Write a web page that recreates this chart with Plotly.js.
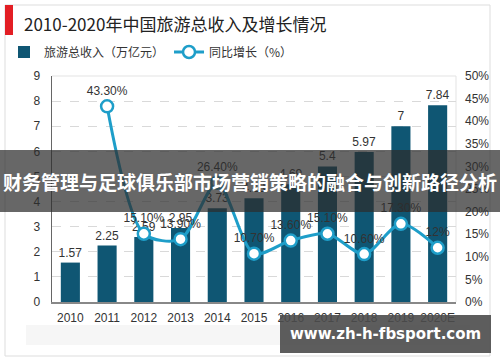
<!DOCTYPE html>
<html>
<head>
<meta charset="utf-8">
<script src="https://cdn.plot.ly/plotly-3.0.1.min.js"></script>
<style>
  html, body { margin: 0; padding: 0; background: #ffffff; }
  #chart { width: 500px; height: 362px; }
</style>
</head>
<body>
<div id="chart"></div>
<script>
// ---- data ----
const years = ['2010', '2011', '2012', '2013', '2014', '2015', '2016', '2017', '2018', '2019', '2020E'];
const revenue = [1.57, 2.25, 2.59, 2.95, 3.73, 4.13, 4.69, 5.4, 5.97, 7, 7.84];
const growth = [null, 43.3, 15.1, 13.9, 26.4, 10.7, 13.6, 15.1, 10.6, 17.3, 12];
const growthLabels = ['', '43.30%', '15.10%', '13.90%', '26.40%', '10.70%', '13.60%', '15.10%', '10.60%', '17.30%', '12%'];
const revenueName = '旅游总收入（万亿元）';
const growthName = '同比增长（%）';
const chartTitle = '2010-2020年中国旅游总收入及增长情况';
const bannerText = '财务管理与足球俱乐部市场营销策略的融合与创新路径分析';
const watermarkText = 'www.zh-h-fbsport.com';

// ---- geometry helpers (pixels -> paper) ----
const W = 500, H = 362;
const L = 52, R = 456, T = 76, B = 302;
const px = x => (x - L) / (R - L);
const py = y => (B - y) / (B - T);

const FONT = 'Liberation Sans, Arial, Noto Sans CJK SC, sans-serif';
const CJK = 'Noto Sans CJK SC, Liberation Sans, sans-serif';

const barTrace = {
  type: 'bar',
  name: revenueName,
  x: years,
  y: revenue,
  yaxis: 'y',
  marker: { color: '#0f5673' },
  text: revenue.map(String),
  textposition: 'outside',
  constraintext: 'none',
  cliponaxis: false,
  textfont: { family: FONT, size: 12, color: '#333333' },
  hoverinfo: 'x+y'
};

const lineTrace = {
  type: 'scatter',
  mode: 'lines+markers+text',
  name: growthName,
  x: years,
  y: growth,
  yaxis: 'y2',
  connectgaps: false,
  line: { color: '#1e9ec9', width: 3, shape: 'spline', smoothing: 0.8 },
  marker: { symbol: 'circle', size: 12, color: '#ffffff', line: { color: '#1e9ec9', width: 2.5 } },
  text: growthLabels,
  textposition: 'top center',
  cliponaxis: false,
  textfont: { family: FONT, size: 12, color: '#333333' }
};

const layout = {
  width: W,
  height: H,
  margin: { l: L, r: W - R, t: T, b: H - B, pad: 0, autoexpand: false },
  paper_bgcolor: '#ffffff',
  plot_bgcolor: '#ffffff',
  showlegend: true,
  bargap: 0.48,
  title: {
    text: chartTitle,
    x: 24 / W,
    xanchor: 'left',
    xref: 'container',
    y: 1 - 25 / H,
    yanchor: 'middle',
    yref: 'container',
    font: { family: CJK, size: 17, color: '#222222' }
  },
  legend: {
    orientation: 'h',
    x: px(4),
    xanchor: 'left',
    y: py(52),
    yanchor: 'middle',
    font: { family: CJK, size: 12, color: '#333333' },
    bgcolor: 'rgba(0,0,0,0)',
    itemwidth: 30,
    tracegroupgap: 0
  },
  xaxis: {
    type: 'category',
    range: [-0.5, years.length - 0.5],
    showgrid: false,
    showline: true,
    linecolor: '#888888',
    linewidth: 1.5,
    ticks: '',
    tickfont: { family: FONT, size: 12, color: '#333333' },
    ticklabelstandoff: 4,
    zeroline: false,
    automargin: false,
    fixedrange: true
  },
  yaxis: {
    range: [0, 9],
    dtick: 1,
    showgrid: true,
    gridcolor: '#d9d9d9',
    griddash: 'dash',
    gridwidth: 1,
    showline: true,
    linecolor: '#666666',
    linewidth: 1.5,
    ticks: '',
    ticklabelstandoff: 8,
    tickfont: { family: FONT, size: 12, color: '#333333' },
    zeroline: false,
    automargin: false,
    fixedrange: true
  },
  yaxis2: {
    overlaying: 'y',
    side: 'right',
    range: [0, 50],
    dtick: 5,
    ticksuffix: '%',
    showgrid: false,
    showline: false,
    ticks: '',
    ticklabelstandoff: 8,
    tickfont: { family: FONT, size: 12, color: '#333333' },
    zeroline: false,
    automargin: false,
    fixedrange: true
  },
  shapes: [
    // outer card border
    { type: 'rect', xref: 'paper', yref: 'paper', x0: px(5), x1: px(490), y0: py(356), y1: py(5),
      line: { color: '#dddddd', width: 1 }, fillcolor: 'rgba(0,0,0,0)', layer: 'below' },
    // red accent bar
    { type: 'rect', xref: 'paper', yref: 'paper', x0: px(5), x1: px(13), y0: py(35), y1: py(5),
      line: { width: 0 }, fillcolor: '#e31e24', layer: 'above' },
    // faint band below axis
    { type: 'rect', xref: 'paper', yref: 'paper', x0: px(26), x1: px(470), y0: py(345), y1: py(325),
      line: { width: 0 }, fillcolor: '#f6f6f6', layer: 'below' },
    // light plot frame (top + right)
    { type: 'line', xref: 'paper', yref: 'paper', x0: 0, x1: 1, y0: 1, y1: 1,
      line: { color: '#e3e3e3', width: 1 }, layer: 'below' },
    { type: 'line', xref: 'paper', yref: 'paper', x0: 1, x1: 1, y0: 0, y1: 1,
      line: { color: '#e3e3e3', width: 1 }, layer: 'below' },
    // overlay banner
    { type: 'rect', xref: 'paper', yref: 'paper', x0: px(0), x1: px(500), y0: py(212), y1: py(150),
      line: { width: 0 }, fillcolor: 'rgba(45,45,45,0.72)', layer: 'above' },
    // watermark box
    { type: 'rect', xref: 'paper', yref: 'paper', x0: px(280), x1: px(491), y0: py(353), y1: py(315),
      line: { width: 0 }, fillcolor: 'rgba(75,75,75,0.9)', layer: 'above' }
  ],
  annotations: [
    { xref: 'paper', yref: 'paper', x: px(250), y: py(181), xanchor: 'center', yanchor: 'middle',
      text: bannerText, showarrow: false,
      font: { family: CJK, size: 19, color: '#ffffff', weight: 'bold' } },
    { xref: 'paper', yref: 'paper', x: px(385), y: py(334), xanchor: 'center', yanchor: 'middle',
      text: watermarkText, showarrow: false,
      font: { family: 'DejaVu Sans, sans-serif', size: 15, color: '#ffffff', weight: 'bold' } }
  ]
};

Plotly.newPlot('chart', [barTrace, lineTrace], layout, { displayModeBar: false, staticPlot: true });
</script>
</body>
</html>
